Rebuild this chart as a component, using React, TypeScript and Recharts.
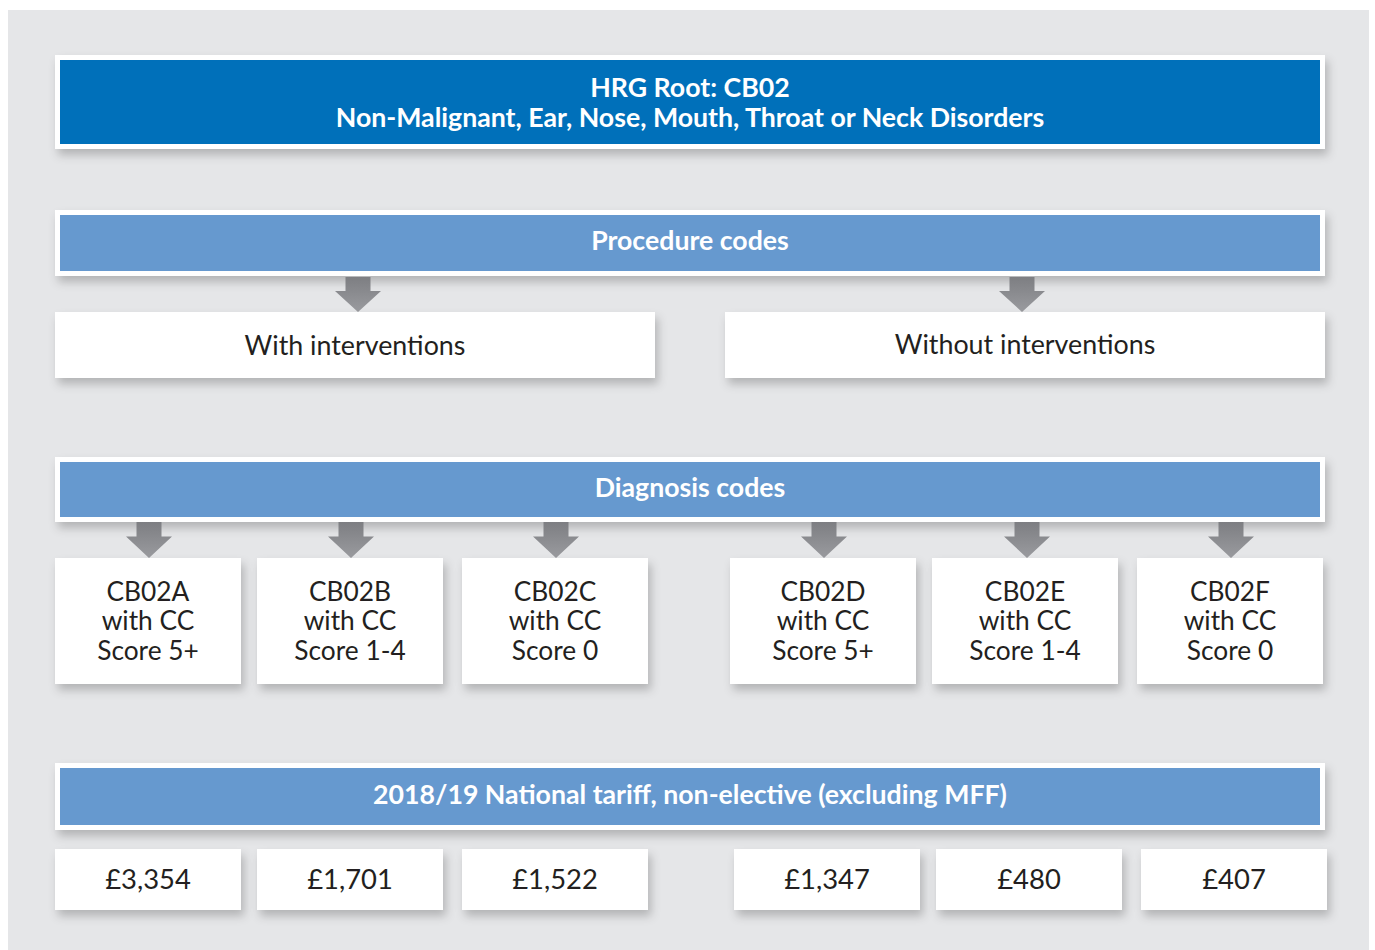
import { ComposedChart, ReferenceArea, XAxis, YAxis } from "recharts";

const rootTitle = ["HRG Root: CB02", "Non-Malignant, Ear, Nose, Mouth, Throat or Neck Disorders"];
const procedureHeader = "Procedure codes";
const procedureGroups = ["With interventions", "Without interventions"];
const diagnosisHeader = "Diagnosis codes";
const hrgCodes = ["CB02A", "CB02B", "CB02C", "CB02D", "CB02E", "CB02F"];
const ccScores = ["Score 5+", "Score 1-4", "Score 0", "Score 5+", "Score 1-4", "Score 0"];
const tariffHeader = "2018/19 National tariff, non-elective (excluding MFF)";
const tariffs = [3354, 1701, 1522, 1347, 480, 407];

// layout (page pixels)
const W = 1375;
const H = 950;
const groupX = [
  [55, 655],
  [725, 1325],
];
const groupArrowX = [358, 1022];
const codeX = [55, 257, 462, 730, 932, 1137];
const codeArrowX = [149, 351, 556, 824, 1027, 1231];
const priceX = [55, 257, 462, 734, 936, 1141];
const cellW = 186;

const FONT = "Lato, 'Open Sans', sans-serif";
const DARK = "#231f20";
const BLUE = "#0070ba";
const LIGHT = "#6699cf";

const Background = (p: any) => (
  <g>
    <defs>
      <filter id="shadow" x="-10%" y="-30%" width="130%" height="180%">
        <feDropShadow dx="3" dy="6" stdDeviation="5" floodColor="#000" floodOpacity="0.22" />
      </filter>
      <linearGradient id="arrowGrad" x1="0" y1="0" x2="0" y2="1">
        <stop offset="0%" stopColor="#7d7e82" />
        <stop offset="100%" stopColor="#9a9b9f" />
      </linearGradient>
    </defs>
    <rect x={p.x} y={p.y} width={p.width} height={p.height} fill="#e5e6e8" />
  </g>
);

const Panel = ({ x, y, width, height, lines, fill, inset, bold, color, size, lineGap, dy = 0 }: any) => {
  const cx = x + width / 2;
  const total = (lines.length - 1) * lineGap;
  const top = y + height / 2 - total / 2 + dy;
  return (
    <g>
      <rect x={x} y={y} width={width} height={height} fill="#fff" filter="url(#shadow)" />
      {inset > 0 && (
        <rect x={x + inset} y={y + inset} width={width - inset * 2} height={height - inset * 2} fill={fill} />
      )}
      {lines.map((t: string, i: number) => (
        <text
          key={i}
          x={cx}
          y={top + i * lineGap}
          textAnchor="middle"
          dominantBaseline="central"
          fontFamily={FONT}
          fontSize={size}
          fontWeight={bold ? 700 : 400}
          fill={color}
        >
          {t}
        </text>
      ))}
    </g>
  );
};

const Arrow = ({ x, y, width, height }: any) => {
  const cx = x + width / 2;
  const shaft = 12.5;
  const head = 23;
  const neck = y + height * 0.4;
  const pts = [
    [cx - shaft, y],
    [cx + shaft, y],
    [cx + shaft, neck],
    [cx + head, neck],
    [cx, y + height],
    [cx - head, neck],
    [cx - shaft, neck],
  ]
    .map((q) => q.join(","))
    .join(" ");
  return <polygon points={pts} fill="url(#arrowGrad)" />;
};

const header = (y1: number, y2: number, lines: string[], fill: string, dy: number) => (
  <ReferenceArea
    x1={55}
    x2={1325}
    y1={y1}
    y2={y2}
    ifOverflow="visible"
    shape={(p: any) => (
      <Panel {...p} lines={lines} fill={fill} inset={5} bold color="#fff" size={26.7} lineGap={30} dy={dy} />
    )}
  />
);

export default function App() {
  return (
    <div style={{ width: W, height: H, overflow: "hidden" }}>
      <style>{`body{margin:0;overflow:hidden}`}</style>
      <ComposedChart width={W} height={H} data={[]} margin={{ top: 0, right: 0, bottom: 0, left: 0 }}>
        <XAxis type="number" dataKey="x" domain={[0, W]} hide allowDataOverflow />
        <YAxis type="number" dataKey="y" domain={[0, H]} hide reversed allowDataOverflow />
        <ReferenceArea x1={8} x2={1369} y1={10} y2={H} ifOverflow="visible" shape={Background} />

        {header(55, 149, rootTitle, BLUE, 0)}
        {header(210, 276, [procedureHeader], LIGHT, -3)}

        {procedureGroups.map((g, i) => (
          <ReferenceArea
            key={`ga-${i}`}
            x1={groupArrowX[i] - 23}
            x2={groupArrowX[i] + 23}
            y1={277}
            y2={312}
            ifOverflow="visible"
            shape={Arrow}
          />
        ))}
        {procedureGroups.map((g, i) => (
          <ReferenceArea
            key={`g-${i}`}
            x1={groupX[i][0]}
            x2={groupX[i][1]}
            y1={312}
            y2={378}
            ifOverflow="visible"
            shape={(p: any) => (
              <Panel {...p} lines={[g]} inset={0} color={DARK} size={26.8} lineGap={30} dy={i === 1 ? -1 : 0} />
            )}
          />
        ))}

        {header(457, 522, [diagnosisHeader], LIGHT, -3)}

        {hrgCodes.map((c, i) => (
          <ReferenceArea
            key={`ca-${i}`}
            x1={codeArrowX[i] - 23}
            x2={codeArrowX[i] + 23}
            y1={522}
            y2={558}
            ifOverflow="visible"
            shape={Arrow}
          />
        ))}
        {hrgCodes.map((c, i) => (
          <ReferenceArea
            key={`c-${i}`}
            x1={codeX[i]}
            x2={codeX[i] + cellW}
            y1={558}
            y2={684}
            ifOverflow="visible"
            shape={(p: any) => (
              <Panel
                {...p}
                lines={[c, "with CC", ccScores[i]]}
                inset={0}
                color={DARK}
                size={26.3}
                lineGap={29.5}
                dy={-1}
              />
            )}
          />
        ))}

        {header(763, 830, [tariffHeader], LIGHT, -3)}

        {tariffs.map((v, i) => (
          <ReferenceArea
            key={`p-${i}`}
            x1={priceX[i]}
            x2={priceX[i] + cellW}
            y1={849}
            y2={910}
            ifOverflow="visible"
            shape={(p: any) => (
              <Panel
                {...p}
                lines={["£" + v.toLocaleString("en-GB")]}
                inset={0}
                color={DARK}
                size={27.4}
                lineGap={30}
                dy={-1}
              />
            )}
          />
        ))}
      </ComposedChart>
    </div>
  );
}
